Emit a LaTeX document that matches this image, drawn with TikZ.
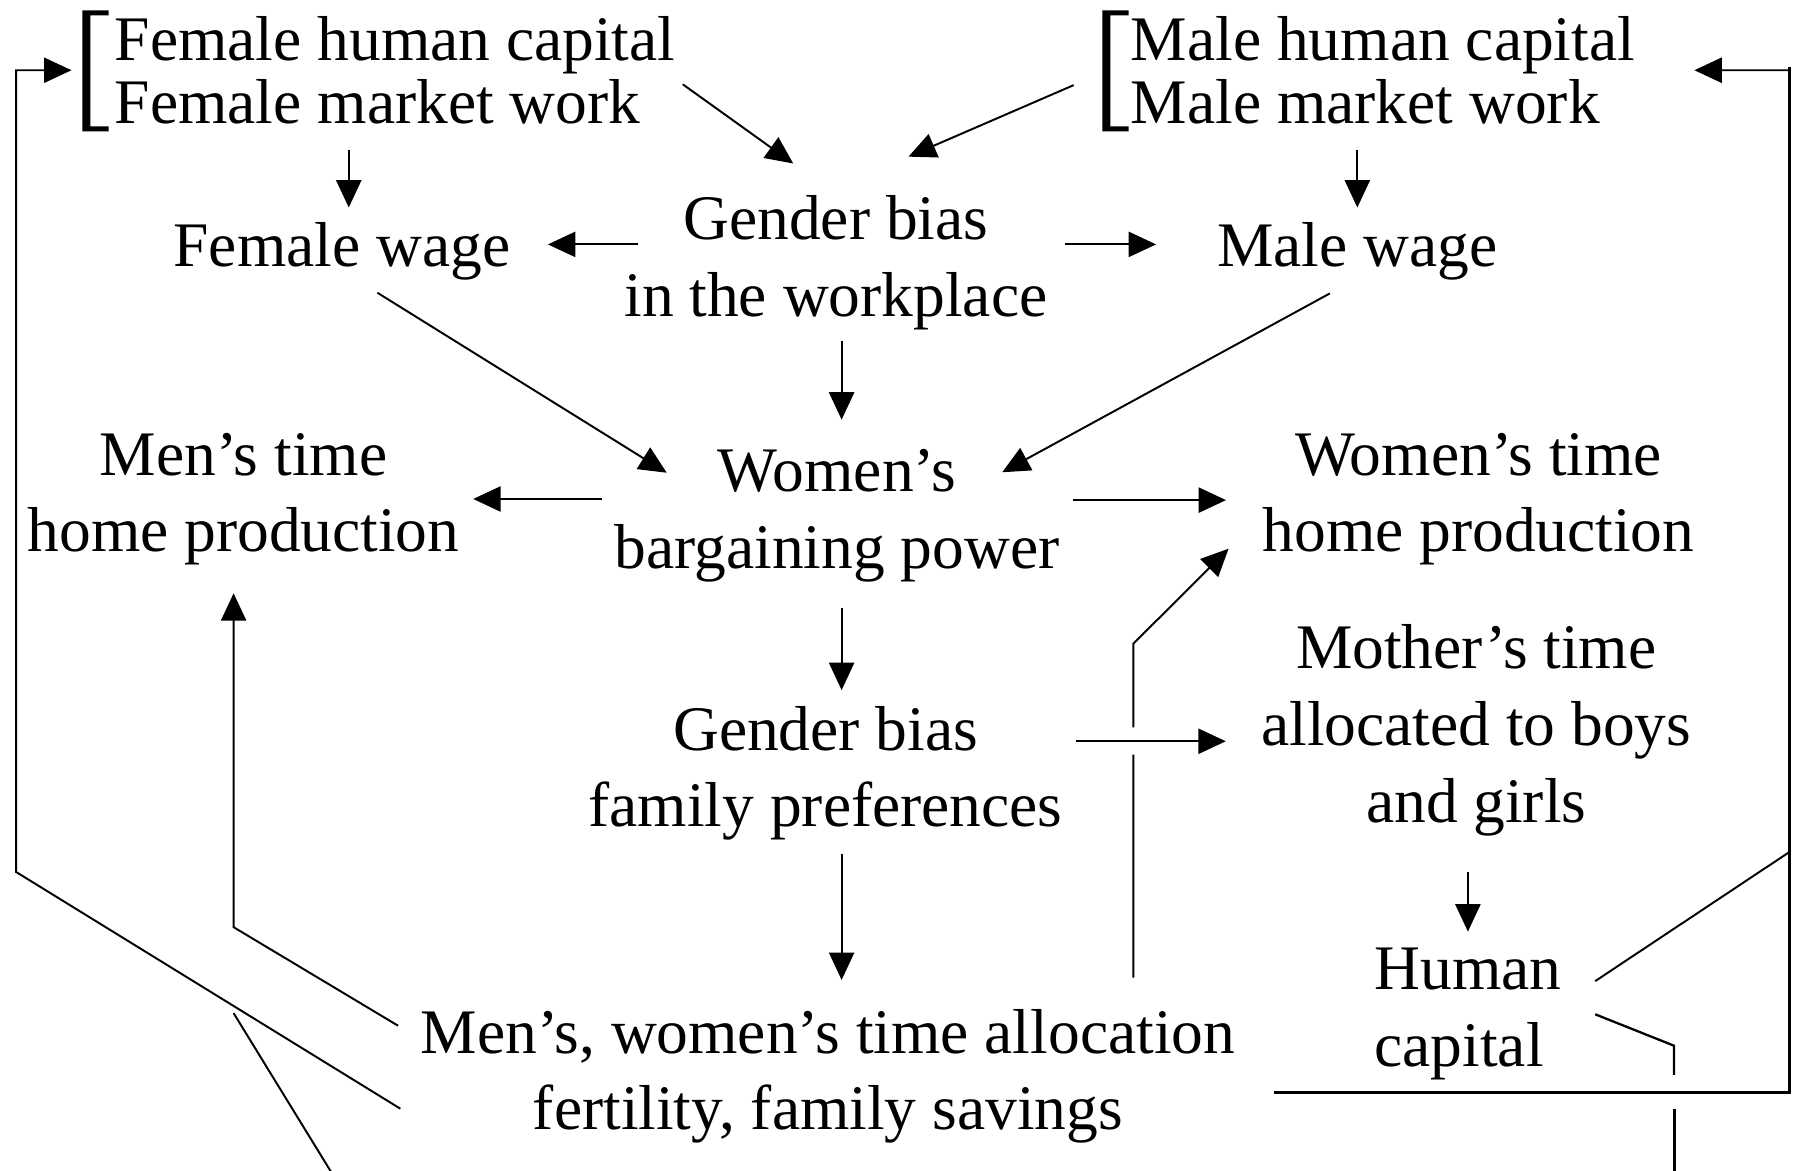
\documentclass[tikz,border=0pt]{standalone}
\usepackage{fontspec}
\setmainfont{Liberation Serif}
\usepackage{tikz}
\usetikzlibrary{arrows.meta,positioning,calc}

\begin{document}
\begin{tikzpicture}[x=1pt,y=-1pt,
  lbl/.style={inner sep=0pt,outer sep=0pt,align=center,font=\fontsize{55.5}{67}\selectfont},
  toplbl/.style={lbl,align=left,anchor=north west,font=\fontsize{55.5}{55}\selectfont},
  arr/.style={line width=1.7pt,-{Triangle[length=24pt,width=22pt]}},
  ln/.style={line width=1.7pt},
  thk/.style={line width=2.6pt}]
\useasboundingbox (0,0) rectangle (1568,1024);

\node[toplbl] (ft) at (100.5,14.4) {Female human capital\\Female market work};
\node[toplbl] (mt) at (989,14.4) {Male human capital\\Male market work};
\node[lbl,anchor=base] (fw) at (299,233) {Female wage};
\node[lbl,anchor=base] (mw) at (1187,233) {Male wage};
\node[lbl,anchor=north] (gbw) at (731,171) {Gender bias\\in the workplace};
\node[lbl,anchor=north] (wbp) at (732,393) {Women’s\\bargaining power};
\node[lbl,anchor=north] (mth) at (213,378.5) {Men’s time\\home production};
\node[lbl,anchor=north] (wth) at (1293,378.5) {Women’s time\\home production};
\node[lbl,anchor=north] (mot) at (1291,546.5) {Mother’s time\\allocated to boys\\and girls};
\node[lbl,anchor=north] (gbf) at (722,617.5) {Gender bias\\family preferences};
\node[lbl,anchor=north west,align=left] (hc) at (1202,829.3) {Human\\capital};
\node[lbl,anchor=north] (mwt) at (724,882.4) {Men’s, women’s time allocation\\fertility, family savings};

% brackets
\foreach \bx in {72,964}
  \fill (\bx,9) -- ++(23,0) -- ++(0,4.5) -- ++(-16,0) -- ++(0,97) -- ++(16,0) -- ++(0,4.5) -- ++(-23,0) -- cycle;

% upper part
\draw[arr] ($(ft.east)+(6.5,12.3)$) -- ($(gbw.north)+(-37.3,-28)$);
\draw[arr] ($(mt.west)+(-50,13)$) -- ($(gbw.north)+(63.5,-34)$);
\draw[arr] ($(ft.south -| fw.north)+(6,23)$) -- ($(fw.north)+(6,-13)$);
\draw[arr] ($(mt.south -| mw.north)+(0,23)$) -- ($(mw.north)+(0,-13)$);
\draw[arr] ($(fw.east -| gbw.west)+(12,-6)$) -- ($(fw.east)+(33,-6)$);
\draw[arr] ($(mw.west -| gbw.east)+(15.6,-6)$) -- ($(mw.west)+(-53.5,-6)$);
\draw[arr] ($(fw.south)+(31,11)$) -- ($(wbp.north west)+(45.5,20.4)$);
\draw[arr] ($(mw.south)+(-24,11.6)$) -- ($(wbp.north east)+(-50,20)$);
\draw[arr] ($(gbw.south -| wbp.north)+(4,10)$) -- ($(wbp.north)+(4,-26)$);

% middle part
\draw[arr] ($(mth.east -| wbp.west)+(-11,0)$) -- ($(mth.east)+(12,0)$);
\draw[arr] ($(wth.west -| wbp.east)+(12,1)$) -- ($(wth.west)+(-32,1)$);
\draw[arr] ($(wbp.south)+(4,22.5)$) -- ($(wbp.south |- gbf.north)+(4,-14)$);
\draw[arr] ($(mot.west -| gbf.east)+(11.3,9.5)$) -- ($(mot.west)+(-31,9.5)$);
\draw[arr] ($(gbf.south -| wbp.south)+(4,11.6)$) -- ($(mwt.north -| wbp.south)+(4,-25.4)$);
\draw[arr] ($(mot.south -| hc.north)+(0,31.6)$) -- ($(hc.north)+(0,-14.6)$);

% feedback lines
\draw[arr] ($(mwt.north east)+(-89,-27.4)$) -- ++(0,-195) ++(0,-24) -- ++(0,-73) -- ($(wth.south west)+(-29.8,-14.4)$);
\draw[arr] ($(mwt.north west)+(-19.8,14.6)$) -- ($(mth.south)+(-8.7,316.6)$) -- ($(mth.south)+(-8.7,24.6)$);
\draw[arr] ($(mwt.south west)+(-17.8,-30.3)$) -- ++(-336,-207) |- ($(ft.west)+(-38,0)$);
\draw[arr] ($(hc.north east)+(29.6,28.7)$) -- ++(170,-113) |- ($(mt.east)+(52,0)$);
\draw[thk] (1565,59) -- (1565,955) -- (1114,955);
\draw[line width=2pt] ($(hc.north east)+(29.6,57.7)$) -- ++(69,27.5) -- ++(0,25.5);
\draw[thk] (1464,970) -- (1464,1030);
\draw[ln] (204.3,886) -- (292.7,1030);
\end{tikzpicture}
\end{document}
